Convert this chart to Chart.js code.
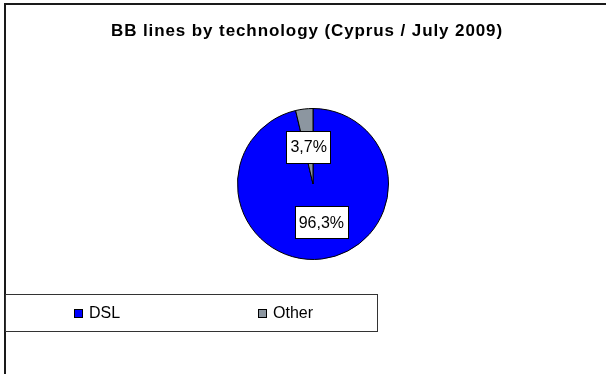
<!DOCTYPE html>
<html><head><meta charset="utf-8">
<script src="https://cdn.jsdelivr.net/npm/chart.js@4"></script>
<style>html,body{margin:0;padding:0;background:#fff}#w{width:606px;height:374px;position:relative}</style>
</head><body><div id="w"><canvas id="c" width="606" height="374"></canvas></div>
<script>
const title = "BB lines by technology (Cyprus / July 2009)";
const categories = ["DSL", "Other"];
const shares = [96.3, 3.7];
const pointLabels = ["96,3%", "3,7%"];
const colors = ["#0000ff", "#8c96a0"];

const FONT = "Arial, 'Liberation Sans', sans-serif";

const decor = {
  id: 'decor',
  beforeDraw(chart) {
    const ctx = chart.ctx;
    ctx.save();
    ctx.fillStyle = '#fff';
    ctx.fillRect(0, 0, chart.width, chart.height);
    ctx.strokeStyle = '#1a1a1a';
    ctx.lineWidth = 2;
    ctx.strokeRect(5, 4, chart.width + 20, chart.height + 20);
    ctx.fillStyle = '#000';
    ctx.font = 'bold 17px ' + FONT;
    ctx.textAlign = 'center';
    ctx.textBaseline = 'alphabetic';
    try { ctx.letterSpacing = '0.9px'; } catch (e) {}
    ctx.fillText(title, 307, 36);
    try { ctx.letterSpacing = '0px'; } catch (e) {}
    ctx.restore();
  },
  afterDraw(chart) {
    const ctx = chart.ctx;
    ctx.save();
    // data labels
    const meta = chart.getDatasetMeta(0);
    ctx.font = '16px ' + FONT;
    ctx.textAlign = 'center';
    ctx.textBaseline = 'middle';
    meta.data.forEach((arc, i) => {
      const p = arc.getCenterPoint();
      const t = pointLabels[i];
      const w = ctx.measureText(t).width + 8;
      const h = 32;
      let x = p.x, y = p.y;
      if (i === 0) { x += 4; y += 1; }
      ctx.fillStyle = '#fff';
      ctx.fillRect(Math.round(x - w / 2) + 0.5, Math.round(y - h / 2) + 0.5, Math.round(w), h);
      ctx.strokeStyle = '#000';
      ctx.lineWidth = 1;
      ctx.strokeRect(Math.round(x - w / 2) + 0.5, Math.round(y - h / 2) + 0.5, Math.round(w), h);
      ctx.fillStyle = '#000';
      ctx.fillText(t, x, y + 1);
    });
    // legend box
    ctx.fillStyle = '#fff';
    ctx.fillRect(5.5, 294.5, 372, 37);
    ctx.strokeStyle = '#333';
    ctx.lineWidth = 1;
    ctx.strokeRect(5.5, 294.5, 372, 37);
    const lx = [74, 258];
    ctx.textAlign = 'left';
    ctx.textBaseline = 'middle';
    categories.forEach((c, i) => {
      ctx.fillStyle = colors[i];
      ctx.fillRect(lx[i] + 0.5, 309.5, 8, 8);
      ctx.strokeStyle = '#000';
      ctx.strokeRect(lx[i] + 0.5, 309.5, 8, 8);
      ctx.fillStyle = '#000';
      ctx.fillText(c, lx[i] + 15, 314);
    });
    ctx.restore();
  }
};

new Chart(document.getElementById('c'), {
  type: 'pie',
  data: {
    labels: categories,
    datasets: [{
      data: shares,
      backgroundColor: colors,
      borderColor: '#000',
      borderWidth: 1
    }]
  },
  options: {
    responsive: false,
    animation: false,
    events: [],
    layout: { padding: { left: 237, right: 217, top: 107, bottom: 113 } },
    plugins: { legend: { display: false }, title: { display: false }, tooltip: { enabled: false } }
  },
  plugins: [decor]
});
</script>
</body></html>
